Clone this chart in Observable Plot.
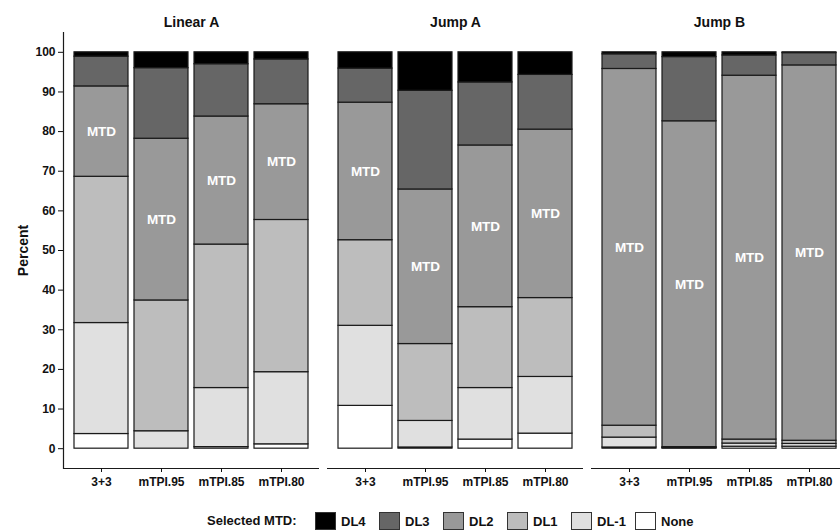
<!DOCTYPE html>
<html>
<head>
<meta charset="utf-8">
<script src="https://cdn.jsdelivr.net/npm/d3@7"></script>
<script src="https://cdn.jsdelivr.net/npm/@observablehq/plot@0.6"></script>
<style>
  html, body { margin: 0; padding: 0; background: #fff; }
  #chart { width: 840px; overflow: hidden; position: relative; }
  #chart svg { display: block; }
  #legend { position: relative; width: 840px; height: 35px; font-family: "Liberation Sans", Arial, sans-serif; font-weight: bold; font-size: 13px; color: #111; }
  #legend .title { position: absolute; left: 207px; top: 16px; line-height: 18px; }
  #legend .item { position: absolute; top: 15px; height: 20px; display: flex; align-items: center; }
  #legend .box { width: 21px; height: 18px; box-sizing: border-box; border: 1px solid #333; margin-right: 5px; }
</style>
</head>
<body>
<div id="chart"></div>
<div id="legend"></div>
<script>
const scenarios = ["Linear A", "Jump A", "Jump B"];
const designs = ["3+3", "mTPI.95", "mTPI.85", "mTPI.80"];
const levels = ["None", "DL-1", "DL1", "DL2", "DL3", "DL4"];
const legendOrder = ["DL4", "DL3", "DL2", "DL1", "DL-1", "None"];
const colors = ["#ffffff", "#e0e0e0", "#bdbdbd", "#999999", "#666666", "#000000"];
const mtdLevel = "DL2";

// percent selected per level (None, DL-1, DL1, DL2, DL3, DL4) for each design
const linearA = [
  [3.7, 28.0, 36.9, 22.8, 7.5, 1.1],
  [0.0, 4.4, 33.0, 40.8, 17.8, 4.0],
  [0.4, 14.9, 36.2, 32.3, 13.2, 3.0],
  [1.1, 18.2, 38.4, 29.2, 11.3, 1.8]
];
const jumpA = [
  [10.8, 20.2, 21.6, 34.7, 8.6, 4.1],
  [0.3, 6.7, 19.4, 39.0, 24.9, 9.7],
  [2.3, 13.0, 20.4, 40.8, 15.9, 7.6],
  [3.8, 14.3, 19.9, 42.5, 13.8, 5.7]
];
const jumpB = [
  [0.3, 2.5, 3.0, 90.0, 3.7, 0.5],
  [0.1, 0.1, 0.2, 82.2, 16.2, 1.2],
  [0.5, 0.8, 1.0, 91.8, 5.1, 0.8],
  [0.5, 0.7, 0.8, 94.7, 3.1, 0.2]
];
const yTicks = [0, 10, 20, 30, 40, 50, 60, 70, 80, 90, 100];

const data = [];
[linearA, jumpA, jumpB].forEach((tbl, i) =>
  tbl.forEach((row, j) =>
    row.forEach((v, k) => data.push({scenario: scenarios[i], design: designs[j], level: levels[k], value: v}))));

const ink = "#1a1a1a";
const chart = Plot.plot({
  width: 840, height: 496,
  marginLeft: 62, marginRight: -9, marginTop: 32, marginBottom: 28,
  style: {fontFamily: "'Liberation Sans', Arial, sans-serif", fontSize: "12px", fontWeight: "bold", color: "#111", background: "white"},
  fx: {domain: scenarios, paddingInner: 0.03, paddingOuter: 0, label: null},
  x: {domain: designs, paddingInner: 0.1, paddingOuter: 0.15, label: null},
  y: {domain: [-5, 105], label: null},
  color: {domain: levels, range: colors},
  marks: [
    Plot.barY(data, Plot.stackY({fx: "scenario", x: "design", y: "value", fill: "level", stroke: ink, strokeWidth: 1.2})),
    Plot.text(data, Plot.stackY({fx: "scenario", x: "design", y: "value", text: d => d.level === mtdLevel ? "MTD" : null, fill: "white", fontSize: 13.5, fontWeight: "bold"})),
    Plot.ruleY([-5], {stroke: ink, strokeWidth: 1.2}),
    Plot.frame({anchor: "left", facetAnchor: "left", stroke: ink, strokeWidth: 1.2}),
    Plot.axisY({ticks: yTicks, tickSize: 5, tickPadding: 3, fontSize: 12, fontWeight: "bold", label: "Percent", labelAnchor: "center", labelOffset: 45, labelArrow: "none"}),
    Plot.axisX({tickSize: 4, tickPadding: 5, fontSize: 12, fontWeight: "bold"}),
    Plot.axisFx({anchor: "top", tickSize: 0, fontSize: 14, fontWeight: "bold", dy: 3})
  ]
});
document.getElementById("chart").appendChild(chart);
const yl = chart.querySelector('[aria-label="y-axis label"]');
if (yl) yl.setAttribute("font-size", "14");

const legend = document.getElementById("legend");
const title = document.createElement("span");
title.className = "title";
title.textContent = "Selected MTD:";
legend.appendChild(title);
legendOrder.forEach((lv, i) => {
  const item = document.createElement("div");
  item.className = "item";
  item.style.left = (315 + i * 64) + "px";
  const box = document.createElement("div");
  box.className = "box";
  box.style.background = colors[levels.indexOf(lv)];
  const t = document.createElement("span");
  t.textContent = lv;
  item.appendChild(box);
  item.appendChild(t);
  legend.appendChild(item);
});
</script>
</body>
</html>
